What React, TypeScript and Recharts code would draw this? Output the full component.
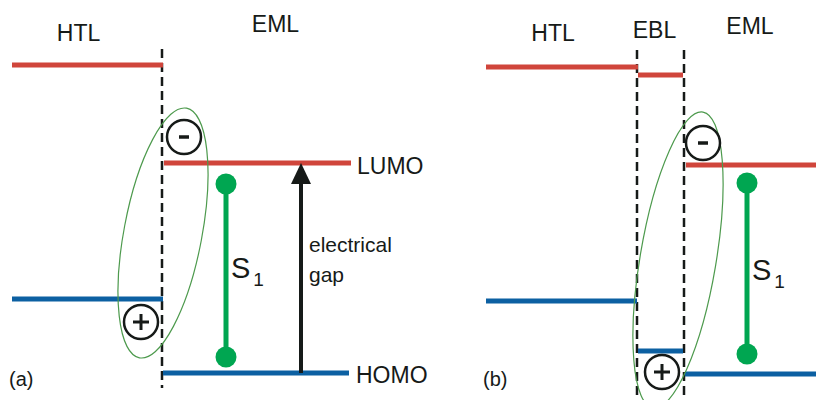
import React from "react"
import {
  ScatterChart,
  Scatter,
  XAxis,
  YAxis,
  ReferenceLine,
  ReferenceDot,
} from "recharts"

// energy scale: arbitrary units, 0 at the bottom of the frame, 400 at the top
// x: position across the device stack

// layers
const layerNames = ["HTL", "EML", "HTL", "EBL", "EML"]

// interfaces (dashed)
const interfaceX = [162, 637, 684]
const interfaceTop = [351, 350, 350]
const interfaceBottom = [12, 2, 2]

// LUMO levels
const lumoFrom = [12, 164, 486, 638, 686]
const lumoTo = [163, 351, 638, 683, 816]
const lumoE = [335, 237, 333, 325, 235]

// HOMO levels
const homoFrom = [12, 163, 486, 638, 685]
const homoTo = [163, 349, 637, 683, 816]
const homoE = [101, 27, 99, 49, 26]

// singlet exciton S1 (EML)
const s1X = [226, 747]
const s1Top = [216, 217]
const s1Bottom = [43, 46]

// electrical gap arrow (panel a)
const gapX = 301
const gapFrom = 27
const gapTo = 237

// charges at the interface
const electrons = [
  { x: 184, y: 263 },
  { x: 703, y: 257 },
]
const holes = [
  { x: 141, y: 78 },
  { x: 662, y: 28 },
]

// recombination zone (ellipse centres)
const zones = [
  { x: 163, y: 167 },
  { x: 678, y: 140 },
]

const RED = "#d0453b"
const BLUE = "#0c60a2"
const GREEN = "#00a651"
const INK = "#161a18"
const FONT = '"Liberation Sans", Arial, Helvetica, sans-serif'

const zoneShape = [
  { rx: 39, ry: 127, rot: 10.7 },
  { rx: 38, ry: 150, rot: 9.6 },
]

const textAt = (
  content: React.ReactNode,
  size: number,
  anchor: "start" | "middle" = "start"
) => (p: any) => (
  <text
    x={p.cx}
    y={p.cy}
    fontSize={size}
    fontFamily={FONT}
    fill={INK}
    textAnchor={anchor}
  >
    {content}
  </text>
)

const charge = (sign: "-" | "+") => (p: any) => (
  <g>
    <circle cx={p.cx} cy={p.cy} r={17} fill="none" stroke={INK} strokeWidth={2.5} />
    {sign === "-" ? (
      <line x1={p.cx - 5} y1={p.cy} x2={p.cx + 5} y2={p.cy} stroke={INK} strokeWidth={3.5} />
    ) : (
      <>
        <line x1={p.cx - 8} y1={p.cy} x2={p.cx + 8} y2={p.cy} stroke={INK} strokeWidth={3} />
        <line x1={p.cx} y1={p.cy - 8} x2={p.cx} y2={p.cy + 8} stroke={INK} strokeWidth={3} />
      </>
    )}
  </g>
)

const ellipse = (i: number) => (p: any) => (
  <ellipse
    cx={p.cx}
    cy={p.cy}
    rx={zoneShape[i].rx}
    ry={zoneShape[i].ry}
    fill="none"
    stroke="#4d9a4d"
    strokeWidth={1.2}
    transform={`rotate(${zoneShape[i].rot} ${p.cx} ${p.cy})`}
  />
)

const arrowShape = (p: any) => {
  const { x1, y1, x2, y2 } = p
  const top = Math.min(y1, y2)
  const bottom = Math.max(y1, y2)
  return (
    <g>
      <line x1={x1} y1={bottom} x2={x2} y2={top + 16} stroke={INK} strokeWidth={4} />
      <polygon
        points={`${x1},${top} ${x1 - 10},${top + 21} ${x1 + 10},${top + 21}`}
        fill={INK}
      />
    </g>
  )
}

const s1Data = (i: number) => [
  { x: s1X[i], y: s1Top[i] },
  { x: s1X[i], y: s1Bottom[i] },
]

const dotShape = (p: any) => <circle cx={p.cx} cy={p.cy} r={10.5} fill={GREEN} />

const s1Label = (
  <>
    S<tspan dx={3} dy={8} fontSize={19}>1</tspan>
  </>
)

export default function App() {
  return (
    <div style={{ position: "absolute", left: 0, top: 0, background: "#fff" }}>
      <ScatterChart width={816} height={400} margin={{ top: 0, right: 0, bottom: 0, left: 0 }}>
        <XAxis type="number" dataKey="x" domain={[0, 816]} hide allowDataOverflow />
        <YAxis type="number" dataKey="y" domain={[0, 400]} hide allowDataOverflow />

        {zones.map((z, i) => (
          <ReferenceDot key={`z${i}`} x={z.x} y={z.y} r={1} shape={ellipse(i)} />
        ))}

        {interfaceX.map((x, i) => (
          <ReferenceLine
            key={`if${i}`}
            segment={[
              { x, y: interfaceTop[i] },
              { x, y: interfaceBottom[i] },
            ]}
            stroke={INK}
            strokeWidth={2.5}
            strokeDasharray="9 5"
          />
        ))}

        {lumoE.map((e, i) => (
          <ReferenceLine
            key={`l${i}`}
            segment={[
              { x: lumoFrom[i], y: e },
              { x: lumoTo[i], y: e },
            ]}
            stroke={RED}
            strokeWidth={5}
          />
        ))}
        {homoE.map((e, i) => (
          <ReferenceLine
            key={`h${i}`}
            segment={[
              { x: homoFrom[i], y: e },
              { x: homoTo[i], y: e },
            ]}
            stroke={BLUE}
            strokeWidth={5}
          />
        ))}

        <ReferenceLine
          segment={[
            { x: gapX, y: gapFrom },
            { x: gapX, y: gapTo },
          ]}
          shape={arrowShape}
        />

        {s1X.map((_, i) => (
          <Scatter
            key={`s${i}`}
            data={s1Data(i)}
            fill={GREEN}
            line={{ stroke: GREEN, strokeWidth: 5 }}
            shape={dotShape}
            isAnimationActive={false}
          />
        ))}

        {electrons.map((c, i) => (
          <ReferenceDot key={`e${i}`} x={c.x} y={c.y} r={17} shape={charge("-")} />
        ))}
        {holes.map((c, i) => (
          <ReferenceDot key={`p${i}`} x={c.x} y={c.y} r={17} shape={charge("+")} />
        ))}

        <ReferenceDot x={78.5} y={359} shape={textAt(layerNames[0], 23, "middle")} />
        <ReferenceDot x={275.5} y={368} shape={textAt(layerNames[1], 23, "middle")} />
        <ReferenceDot x={553} y={359} shape={textAt(layerNames[2], 23, "middle")} />
        <ReferenceDot x={654.5} y={362} shape={textAt(layerNames[3], 23, "middle")} />
        <ReferenceDot x={750} y={366} shape={textAt(layerNames[4], 23, "middle")} />

        <ReferenceDot x={357} y={226} shape={textAt("LUMO", 23)} />
        <ReferenceDot x={356} y={17} shape={textAt("HOMO", 23)} />
        <ReferenceDot x={309} y={148} shape={textAt("electrical", 21)} />
        <ReferenceDot x={309} y={118} shape={textAt("gap", 21)} />

        <ReferenceDot x={231} y={122} shape={textAt(s1Label, 29)} />
        <ReferenceDot x={752} y={120} shape={textAt(s1Label, 29)} />

        <ReferenceDot x={9} y={14} shape={textAt("(a)", 20)} />
        <ReferenceDot x={483} y={14} shape={textAt("(b)", 20)} />
      </ScatterChart>
    </div>
  )
}
